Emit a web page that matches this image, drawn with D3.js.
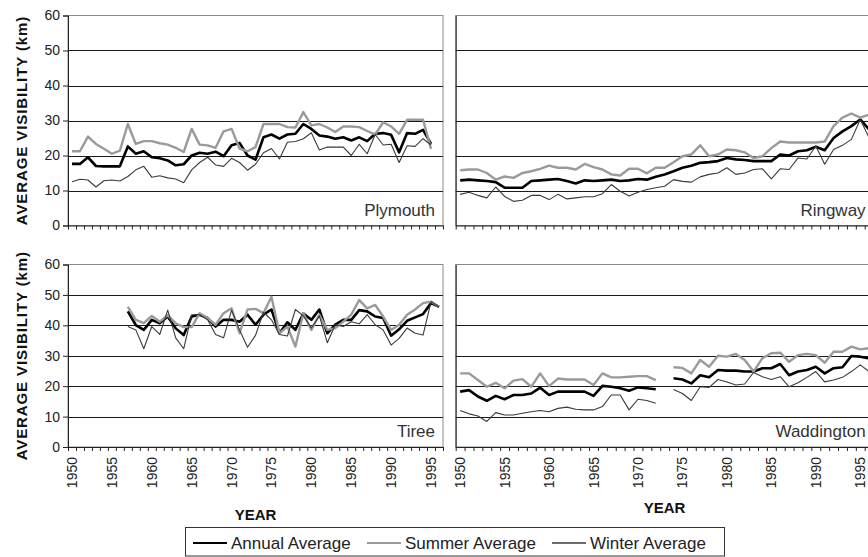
<!DOCTYPE html>
<html>
<head>
<meta charset="utf-8">
<script src="https://cdn.jsdelivr.net/npm/d3@7"></script>
<style>
    html, body {margin: 0; padding: 0; background: #fff; overflow: hidden;}
    svg {display: block; font-family: "Liberation Sans", Arial, sans-serif;}
</style>
</head>
<body>
<div id="container"></div>
<script>
// 数据：各站点年平均能见度 (km)
const plymouthStart = 1950;
const plymouthAnnual = [
    17.6, 17.6, 19.5, 17.0, 16.9, 16.9, 16.9, 22.6, 20.5, 21.2,
    19.5, 19.2, 18.6, 17.2, 17.5, 20.0, 20.8, 20.5, 21.1, 19.8,
    22.9, 23.6, 20.0, 18.8, 25.2, 26.0, 24.8, 26.0, 26.2, 29.0,
    27.6, 25.7, 25.4, 24.8, 25.2, 24.3, 25.2, 24.1, 26.2, 26.4,
    25.9, 20.9, 26.4, 26.2, 27.3, 23.3
];
const plymouthSummer = [
    21.2, 21.2, 25.4, 23.3, 21.9, 20.5, 21.4, 29.0, 23.3, 24.1,
    24.1, 23.5, 23.1, 22.2, 21.0, 27.6, 23.1, 22.9, 22.2, 26.9,
    27.6, 22.0, 21.2, 22.4, 29.0, 29.0, 29.0, 28.1, 28.0, 32.4,
    28.6, 29.0, 28.0, 26.7, 28.3, 28.3, 28.1, 27.0, 26.0, 29.5,
    28.3, 26.2, 30.2, 30.2, 30.2, 21.9
];
const plymouthWinter = [
    12.5, 13.2, 13.0, 11.0, 12.8, 13.0, 12.7, 14.0, 15.9, 16.9,
    13.8, 14.2, 13.6, 13.3, 12.2, 15.9, 18.0, 19.5, 17.3, 16.9,
    19.2, 18.0, 15.8, 17.5, 20.8, 22.0, 19.0, 23.8, 24.0, 24.8,
    26.5, 21.6, 22.4, 22.4, 22.4, 20.0, 23.2, 20.5, 26.0, 23.0,
    23.2, 18.0, 22.8, 22.6, 24.8, 23.0
];

const ringwayStart = 1950;
const ringwayAnnual = [
    12.9, 13.1, 12.9, 12.7, 12.4, 10.8, 10.8, 10.8, 12.7, 12.9,
    13.1, 13.3, 12.7, 12.0, 12.9, 12.7, 12.9, 13.1, 12.7, 12.9,
    13.3, 13.1, 13.9, 14.6, 15.5, 16.5, 17.1, 17.9, 18.1, 18.4,
    19.3, 18.9, 18.7, 18.4, 18.4, 18.4, 20.3, 20.0, 21.2, 21.5,
    22.5, 21.5, 25.0, 26.9, 28.4, 30.3, 27.4
];
const ringwaySummer = [
    15.8, 16.0, 16.0, 15.0, 13.1, 14.0, 13.6, 15.0, 15.5, 16.2,
    17.1, 16.5, 16.5, 16.0, 17.6, 16.7, 16.0, 14.6, 14.3, 16.2,
    16.2, 14.9, 16.5, 16.5, 18.1, 19.8, 20.3, 22.9, 19.8, 20.3,
    21.7, 21.5, 20.9, 19.3, 19.8, 22.1, 24.0, 23.7, 23.7, 23.7,
    23.7, 24.0, 28.4, 30.8, 32.0, 30.8, 31.7
];
const ringwayWinter = [
    8.9, 9.5, 8.6, 7.9, 11.0, 8.3, 6.9, 7.2, 8.6, 8.6,
    7.4, 8.9, 7.6, 7.9, 8.2, 8.2, 9.1, 11.7, 9.8, 8.4,
    9.5, 10.3, 10.8, 11.2, 13.1, 12.6, 12.4, 13.9, 14.6, 15.0,
    16.5, 14.6, 15.0, 16.0, 16.2, 13.3, 16.2, 16.0, 19.3, 19.0,
    22.7, 17.5, 21.7, 22.9, 24.6, 30.3, 25.0
];

const tireeStart = 1957;
const tireeAnnual = [
    44.6, 40.1, 38.5, 41.8, 40.7, 42.9, 39.0, 36.8, 42.9, 43.5,
    42.4, 39.6, 41.8, 41.8, 41.2, 43.5, 40.2, 43.5, 45.2, 37.4,
    41.0, 38.5, 43.9, 41.8, 45.2, 37.4, 40.2, 41.8, 41.8, 45.0,
    44.6, 42.9, 42.4, 36.6, 38.7, 41.5, 42.6, 43.7, 47.3, 46.1
];
const tireeSummer = [
    46.1, 41.8, 40.7, 43.1, 41.2, 43.3, 40.7, 39.4, 39.4, 44.0,
    42.4, 40.2, 44.0, 45.6, 37.4, 45.2, 45.4, 44.0, 49.4, 37.4,
    39.6, 33.0, 44.0, 38.5, 43.5, 38.5, 39.1, 41.2, 43.5, 48.3,
    45.6, 46.7, 42.9, 38.5, 40.2, 43.5, 45.2, 47.3, 47.8, 46.1
];
const tireeWinter = [
    39.6, 38.5, 32.3, 39.6, 37.0, 45.0, 35.9, 32.3, 43.5, 43.5,
    41.8, 37.0, 35.9, 45.0, 38.5, 32.8, 36.7, 44.3, 41.8, 37.0,
    36.5, 45.2, 43.1, 39.1, 43.1, 34.3, 40.2, 39.6, 41.2, 40.5,
    43.5, 40.2, 38.5, 33.5, 35.7, 39.1, 37.4, 36.8, 47.8, 46.1
];

// 1973 缺测
const waddingtonStart = 1950;
const waddingtonAnnual = [
    18.2, 18.7, 16.6, 15.2, 16.8, 15.7, 17.1, 17.1, 17.6, 19.5,
    17.1, 18.2, 18.2, 18.2, 18.2, 16.8, 20.1, 19.8, 19.3, 18.5,
    19.6, 19.3, 19.0, null, 22.6, 22.2, 20.9, 23.6, 22.9, 25.3,
    25.1, 25.1, 24.8, 24.8, 25.9, 25.9, 27.3, 23.6, 24.8, 25.3,
    26.4, 24.2, 25.9, 26.2, 29.9, 29.7, 29.1
];
const waddingtonSummer = [
    24.2, 24.2, 22.0, 19.8, 21.1, 19.3, 21.8, 22.3, 19.8, 24.2,
    20.0, 22.5, 22.2, 22.2, 22.2, 20.4, 24.2, 22.9, 22.9, 23.1,
    23.3, 23.3, 22.0, null, 26.2, 26.0, 24.2, 28.6, 26.4, 30.0,
    29.7, 30.6, 28.6, 24.8, 29.2, 30.8, 31.0, 28.0, 30.2, 30.6,
    30.2, 27.7, 31.3, 31.3, 33.0, 32.1, 32.5
];
const waddingtonWinter = [
    12.0, 10.9, 10.2, 8.4, 11.3, 10.5, 10.5, 11.1, 11.6, 12.0,
    11.6, 12.7, 13.1, 12.4, 12.2, 12.2, 13.3, 17.1, 17.1, 12.2,
    15.7, 15.3, 14.4, null, 18.9, 17.6, 15.3, 19.8, 19.6, 22.2,
    21.4, 20.4, 20.7, 24.5, 23.1, 22.2, 23.1, 19.8, 21.1, 22.9,
    24.8, 21.4, 22.0, 22.9, 24.8, 27.0, 24.8
];

const yearLabels = [1950, 1955, 1960, 1965, 1970, 1975, 1980, 1985, 1990, 1995];
const yTicks = [0, 10, 20, 30, 40, 50, 60];
const seriesNames = ['Annual Average', 'Summer Average', 'Winter Average'];

// 样式
const SERIES_STYLE = [
    {color: '#000000', width: 2.6},
    {color: '#9a9a9a', width: 2.4},
    {color: '#3a3a3a', width: 1.1}
];
const FONT = '"Liberation Sans", Arial, sans-serif';

const width = 868;
const height = 557;

const svg = d3.select('#container')
    .append('svg')
    .attr('width', width)
    .attr('height', height);

// 面板布局
const panels = [
    {name: 'Plymouth', start: plymouthStart, series: [plymouthAnnual, plymouthSummer, plymouthWinter],
        left: 68, right: 443, top: 15.5, bottom: 225.5, yLabels: true, xLabels: false},
    {name: 'Ringway', start: ringwayStart, series: [ringwayAnnual, ringwaySummer, ringwayWinter],
        left: 455.7, right: 873.6, top: 15.5, bottom: 225.5, yLabels: false, xLabels: false},
    {name: 'Tiree', start: tireeStart, series: [tireeAnnual, tireeSummer, tireeWinter],
        left: 68, right: 443, top: 264.5, bottom: 447, yLabels: true, xLabels: true},
    {name: 'Waddington', start: waddingtonStart, series: [waddingtonAnnual, waddingtonSummer, waddingtonWinter],
        left: 455.7, right: 873.6, top: 264.5, bottom: 447, yLabels: false, xLabels: true}
];

panels.forEach(p => {
    const g = svg.append('g');
    const xScale = d3.scaleLinear().domain([1949.5, 1996.5]).range([p.left, p.right]);
    const yScale = d3.scaleLinear().domain([0, 60]).range([p.bottom, p.top]);

    // 边框
    g.append('rect')
        .attr('x', p.left)
        .attr('y', p.top)
        .attr('width', p.right - p.left)
        .attr('height', p.bottom - p.top)
        .attr('fill', 'none')
        .attr('stroke', '#8a8a8a')
        .attr('stroke-width', 1);

    // 网格线
    g.selectAll('.grid')
        .data(yTicks.filter(d => d > 0 && d < 60))
        .enter()
        .append('line')
        .attr('x1', p.left)
        .attr('x2', p.right)
        .attr('y1', d => Math.round(yScale(d)) + 0.5)
        .attr('y2', d => Math.round(yScale(d)) + 0.5)
        .attr('stroke', '#1a1a1a')
        .attr('stroke-width', 1);

    // y轴
    const yAxis = d3.axisLeft(yScale)
        .tickValues(yTicks)
        .tickSize(p.yLabels ? 5 : 0)
        .tickPadding(3)
        .tickFormat(d => p.yLabels ? d : '');
    const yAxisG = g.append('g')
        .attr('transform', `translate(${p.left},0)`)
        .call(yAxis);
    yAxisG.select('.domain').attr('stroke', '#222');
    yAxisG.selectAll('.tick line').attr('stroke', '#222');
    yAxisG.selectAll('text')
        .attr('font-family', FONT)
        .attr('font-size', 14)
        .attr('fill', '#222');

    // x轴（刻度在类别之间）
    const boundaries = d3.range(1949.5, 1997, 1);
    const xAxis = d3.axisBottom(xScale)
        .tickValues(boundaries)
        .tickSize(4)
        .tickSizeOuter(0)
        .tickFormat('');
    const xAxisG = g.append('g')
        .attr('transform', `translate(0,${p.bottom})`)
        .call(xAxis);
    xAxisG.select('.domain').attr('stroke', '#222');
    xAxisG.selectAll('.tick line').attr('stroke', '#222');

    if (p.xLabels) {
        g.selectAll('.yearLabel')
            .data(yearLabels)
            .enter()
            .append('text')
            .attr('class', 'yearLabel')
            .attr('transform', d => `translate(${xScale(d) + 5},${p.bottom + 10}) rotate(-90)`)
            .attr('text-anchor', 'end')
            .attr('font-family', FONT)
            .attr('font-size', 14)
            .attr('fill', '#222')
            .text(d => d);
    }

    // 折线
    const line = d3.line()
        .defined(d => d.v !== null)
        .x(d => xScale(d.year))
        .y(d => yScale(d.v));
    p.series.forEach((values, i) => {
        const data = values.map((v, k) => ({year: p.start + k, v: v}));
        g.append('path')
            .datum(data)
            .attr('fill', 'none')
            .attr('stroke', SERIES_STYLE[i].color)
            .attr('stroke-width', SERIES_STYLE[i].width)
            .attr('stroke-linejoin', 'round')
            .attr('d', line);
    });

    // 站名
    g.append('text')
        .attr('x', p.right - 8)
        .attr('y', p.bottom - 10)
        .attr('text-anchor', 'end')
        .attr('font-family', FONT)
        .attr('font-size', 17)
        .attr('fill', '#333')
        .text(p.name);
});

// y轴标题
[[120.5], [355.7]].forEach(([cy]) => {
    svg.append('text')
        .attr('transform', `translate(27,${cy}) rotate(-90)`)
        .attr('text-anchor', 'middle')
        .attr('font-family', FONT)
        .attr('font-size', 15)
        .attr('font-weight', 'bold')
        .attr('letter-spacing', 0.9)
        .attr('fill', '#111')
        .text('AVERAGE VISIBILITY (km)');
});

// x轴标题
svg.append('text')
    .attr('x', 255.5).attr('y', 520)
    .attr('text-anchor', 'middle')
    .attr('font-family', FONT).attr('font-size', 15).attr('font-weight', 'bold')
    .attr('fill', '#111')
    .text('YEAR');
svg.append('text')
    .attr('x', 664.6).attr('y', 513)
    .attr('text-anchor', 'middle')
    .attr('font-family', FONT).attr('font-size', 15).attr('font-weight', 'bold')
    .attr('fill', '#111')
    .text('YEAR');

// 图例
const legend = svg.append('g');
legend.append('rect')
    .attr('x', 185.5).attr('y', 527.5)
    .attr('width', 539).attr('height', 28.5)
    .attr('fill', '#fff')
    .attr('stroke', '#333')
    .attr('stroke-width', 1);
const legendX = [193, 367, 552];
seriesNames.forEach((name, i) => {
    legend.append('line')
        .attr('x1', legendX[i]).attr('x2', legendX[i] + 34)
        .attr('y1', 543).attr('y2', 543)
        .attr('stroke', SERIES_STYLE[i].color)
        .attr('stroke-width', i === 2 ? 1.4 : 2.2);
    legend.append('text')
        .attr('x', legendX[i] + 38).attr('y', 549)
        .attr('font-family', FONT).attr('font-size', 17)
        .attr('fill', '#222')
        .text(name);
});
</script>
</body>
</html>
